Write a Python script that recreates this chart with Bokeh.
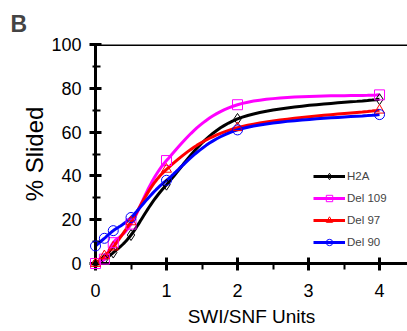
import numpy as np
from bokeh.plotting import figure
from bokeh.models import Span, Legend, LegendItem, Range1d, FixedTicker
from bokeh.embed import file_html
from bokeh.resources import INLINE

# ---- data ----
units = [0, 0.125, 0.25, 0.5, 1, 2, 4]
h2a = [0, 2, 5, 13, 36, 66, 75]
del109 = [0, 2, 9.5, 18, 47, 72.5, 77]
del97 = [0, 3.5, 7.5, 19, 43, 62, 70]
del90 = [8, 11.5, 15, 21, 38, 61, 68]

series_names = ["H2A", "Del 109", "Del 97", "Del 90"]
x_ticks = [0, 1, 2, 3, 4]
x_minor = [0.5, 1.5, 2.5, 3.5]
y_ticks = [0, 20, 40, 60, 80, 100]
y_minor = [10, 30, 50, 70, 90]

FONT = "Liberation Sans"
X0, X1 = 0, 4.394
Y0, Y1 = 0, 100
PX_X, PX_Y = 71.0, 2.19  # approx pixels per unit, for smoothing in screen space


def smooth(xs, ys, n=24):
    """Excel-like smoothed line: Bezier segments with Catmull-Rom control points."""
    P = np.column_stack([np.asarray(xs, float) * PX_X, np.asarray(ys, float) * PX_Y])
    m = len(P)
    out = []
    for i in range(m - 1):
        p0 = P[i - 1] if i > 0 else P[i]
        p1, p2 = P[i], P[i + 1]
        p3 = P[i + 2] if i + 2 < m else P[i + 1]
        c1 = p1 + (p2 - p0) / 6.0
        c2 = p2 - (p3 - p1) / 6.0
        t = np.linspace(0, 1, n)[:, None]
        seg = ((1 - t) ** 3) * p1 + 3 * ((1 - t) ** 2) * t * c1 + 3 * (1 - t) * t ** 2 * c2 + t ** 3 * p2
        out.append(seg if i == 0 else seg[1:])
    pts = np.vstack(out)
    return pts[:, 0] / PX_X, pts[:, 1] / PX_Y


p = figure(width=407, height=331, x_range=Range1d(X0, X1), y_range=Range1d(Y0, Y1),
           output_backend="svg", toolbar_location=None,
           min_border_left=95, min_border_right=0, min_border_top=44, min_border_bottom=68)
p.outline_line_color = None
p.grid.visible = False
p.background_fill_color = "white"

styles = [
    (h2a, "black", "diamond", 11),
    (del109, "#FF00FF", "square", 10),
    (del97, "#FF0000", "triangle", 10),
    (del90, "#0000FF", "circle", 10),
]

items = []
for name, (vals, col, mk, sz) in zip(series_names, styles):
    sx, sy = smooth(units, vals)
    r1 = p.line(sx, sy, line_color=col, line_width=3)
    r2 = p.scatter(units, vals, marker=mk, size=sz, line_color=col, line_width=1,
                   fill_color=None, level="overlay")
    items.append(LegendItem(label=name, renderers=[r1, r2]))

legend = Legend(items=items, location=(218, 13), padding=0, margin=0, spacing=6,
                glyph_width=32, glyph_height=16, label_height=16, label_standoff=2,
                label_text_font=FONT, label_text_font_size="11.5px",
                border_line_color=None, background_fill_alpha=0)
p.add_layout(legend)

# top line at 100
p.add_layout(Span(location=100, dimension="width", line_color="black", line_width=3))

xa = p.xaxis[0]
xa.ticker = FixedTicker(ticks=x_ticks, minor_ticks=x_minor)
xa.axis_line_width = 3
xa.major_tick_line_width = 3
xa.minor_tick_line_width = 2
xa.major_tick_in = 6
xa.major_tick_out = 7
xa.minor_tick_in = 0
xa.minor_tick_out = 6
xa.major_label_text_font = FONT
xa.major_label_text_font_size = "18px"
xa.major_label_text_color = "black"
xa.major_label_standoff = 13
xa.axis_label = "SWI/SNF Units"
xa.axis_label_text_font = FONT
xa.axis_label_text_font_size = "19px"
xa.axis_label_text_font_style = "normal"
xa.axis_label_text_color = "black"
xa.axis_label_standoff = 6

ya = p.yaxis[0]
ya.ticker = FixedTicker(ticks=y_ticks, minor_ticks=y_minor)
ya.axis_line_width = 3
ya.major_tick_line_width = 3
ya.minor_tick_line_width = 2
ya.major_tick_in = 6
ya.major_tick_out = 6
ya.minor_tick_in = 5
ya.minor_tick_out = 3
ya.major_label_text_font = FONT
ya.major_label_text_font_size = "18px"
ya.major_label_text_color = "black"
ya.major_label_standoff = 8
ya.axis_label = "% Slided"
ya.axis_label_text_font = FONT
ya.axis_label_text_font_size = "24px"
ya.axis_label_text_font_style = "normal"
ya.axis_label_text_color = "black"
ya.axis_label_standoff = 0

p.title.text = "B"
p.title.text_font = FONT
p.title.text_font_size = "23px"
p.title.text_font_style = "bold"
p.title.align = "left"
p.title.offset = -85
p.title.standoff = 16

open("out.html", "w").write(file_html(p, INLINE))
